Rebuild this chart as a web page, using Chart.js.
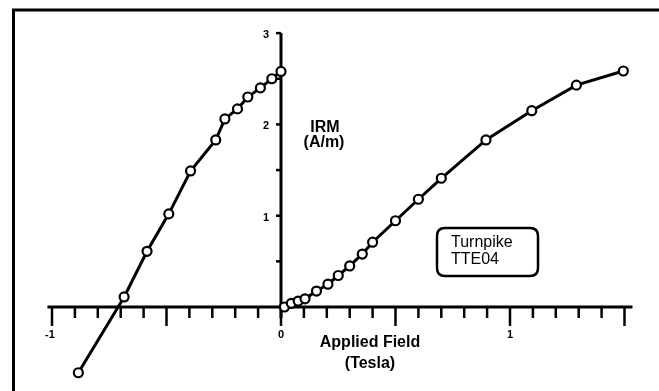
<!DOCTYPE html>
<html>
<head>
<meta charset="utf-8">
<script src="https://cdn.jsdelivr.net/npm/chart.js@4/dist/chart.umd.min.js"></script>
<style>
  html, body { margin: 0; padding: 0; background: #fff; }
  #irm { display: block; }
</style>
</head>
<body>
<canvas id="irm" width="659" height="391"></canvas>
<script>
// backfield (negative field) after saturation
const backfieldField = [0, -0.04, -0.09, -0.145, -0.19, -0.245, -0.285, -0.395, -0.49, -0.585, -0.685, -0.885];
const backfieldIRM = [2.58, 2.5, 2.4, 2.3, 2.17, 2.06, 1.83, 1.49, 1.02, 0.61, 0.11, -0.72];

// acquisition curve
const acqField = [0.015, 0.045, 0.075, 0.105, 0.155, 0.205, 0.25, 0.3, 0.355, 0.4, 0.5, 0.6, 0.7, 0.895, 1.095, 1.29, 1.495];
const acqIRM = [0.0, 0.04, 0.065, 0.09, 0.175, 0.25, 0.345, 0.45, 0.58, 0.71, 0.945, 1.18, 1.41, 1.83, 2.15, 2.43, 2.585];

const xTickValues = [-1, -0.9, -0.8, -0.7, -0.6, -0.5, -0.4, -0.3, -0.2, -0.1, 0, 0.1, 0.2, 0.3, 0.4, 0.5, 0.6, 0.7, 0.8, 0.9, 1, 1.1, 1.2, 1.3, 1.4, 1.5];
const xTickLabels = ["-1", "0", "1"];
const yTickValues = [0.5, 1, 1.5, 2, 2.5, 3];
const yTickLabels = ["1", "2", "3"];

const toPoints = (xs, ys) => xs.map((x, i) => ({ x: x, y: ys[i] }));

const FONT = "'Liberation Sans', Arial, sans-serif";

// axes crossing at the origin, frame and annotations
const crossAxes = {
  id: "crossAxes",
  beforeDatasetsDraw(chart) {
    const c = chart.ctx;
    const xs = chart.scales.x;
    const ys = chart.scales.y;
    const x0 = xs.getPixelForValue(0);
    const y0 = ys.getPixelForValue(0);
    c.save();
    c.strokeStyle = "#000";
    c.fillStyle = "#000";
    c.lineCap = "butt";

    // frame (top and left only)
    c.lineWidth = 3;
    c.beginPath();
    c.moveTo(13.5, 391);
    c.lineTo(13.5, 10);
    c.lineTo(659, 10);
    c.stroke();

    // x axis
    c.lineWidth = 3;
    c.beginPath();
    c.moveTo(xs.getPixelForValue(-1.02), y0);
    c.lineTo(xs.getPixelForValue(1.535), y0);
    c.stroke();
    c.lineWidth = 2.5;
    xTickValues.forEach((v) => {
      const px = xs.getPixelForValue(v);
      const major = Math.abs(v * 2 - Math.round(v * 2)) < 1e-6;
      c.beginPath();
      c.moveTo(px, y0);
      c.lineTo(px, y0 + (major ? 19 : 11));
      c.stroke();
    });
    c.font = "bold 11px " + FONT;
    c.textAlign = "center";
    c.textBaseline = "middle";
    xTickLabels.forEach((t) => {
      c.fillText(t, xs.getPixelForValue(parseFloat(t)) - (t === "-1" ? 2 : 0), y0 + 28);
    });

    // y axis
    c.lineWidth = 3;
    c.beginPath();
    c.moveTo(x0, ys.getPixelForValue(3));
    c.lineTo(x0, ys.getPixelForValue(-0.12));
    c.stroke();
    c.lineWidth = 2.5;
    yTickValues.forEach((v) => {
      const py = ys.getPixelForValue(v);
      c.beginPath();
      c.moveTo(x0, py);
      c.lineTo(x0 - 5, py);
      c.stroke();
    });
    c.textAlign = "right";
    yTickLabels.forEach((t) => {
      c.fillText(t, x0 - 12, ys.getPixelForValue(parseFloat(t)) + 2);
    });

    // axis titles
    c.font = "bold 16px " + FONT;
    c.textAlign = "center";
    c.fillText("IRM", 325, 128);
    c.fillText("(A/m)", 324, 143);
    c.fillText("Applied Field", 370, 343);
    c.fillText("(Tesla)", 370, 364);

    // sample box
    c.lineWidth = 2.5;
    const bx = 437, by = 228, bw = 101, bh = 48, r = 8;
    c.beginPath();
    c.moveTo(bx + r, by);
    c.lineTo(bx + bw - r, by);
    c.quadraticCurveTo(bx + bw, by, bx + bw, by + r);
    c.lineTo(bx + bw, by + bh - r);
    c.quadraticCurveTo(bx + bw, by + bh, bx + bw - r, by + bh);
    c.lineTo(bx + r, by + bh);
    c.quadraticCurveTo(bx, by + bh, bx, by + bh - r);
    c.lineTo(bx, by + r);
    c.quadraticCurveTo(bx, by, bx + r, by);
    c.stroke();
    c.font = "16px " + FONT;
    c.textAlign = "left";
    c.fillText("Turnpike", 451, 243);
    c.fillText("TTE04", 451, 260);
    c.restore();
  }
};

const lineStyle = {
  showLine: true,
  borderColor: "#000",
  borderWidth: 3,
  pointRadius: 4.5,
  pointBorderWidth: 2.2,
  pointBackgroundColor: "#fff",
  pointBorderColor: "#000",
  clip: false
};

new Chart(document.getElementById("irm").getContext("2d"), {
  type: "scatter",
  data: {
    datasets: [
      Object.assign({ label: "Backfield", data: toPoints(backfieldField, backfieldIRM) }, lineStyle),
      Object.assign({ label: "Acquisition", data: toPoints(acqField, acqIRM) }, lineStyle)
    ]
  },
  options: {
    responsive: false,
    animation: false,
    devicePixelRatio: 1,
    layout: { padding: 0, autoPadding: false },
    plugins: { legend: { display: false }, tooltip: { enabled: false } },
    scales: {
      x: { type: "linear", display: false, min: -1.2271, max: 1.6507 },
      y: { type: "linear", display: false, min: -0.92, max: 3.3626 }
    }
  },
  plugins: [crossAxes]
});
</script>
</body>
</html>
